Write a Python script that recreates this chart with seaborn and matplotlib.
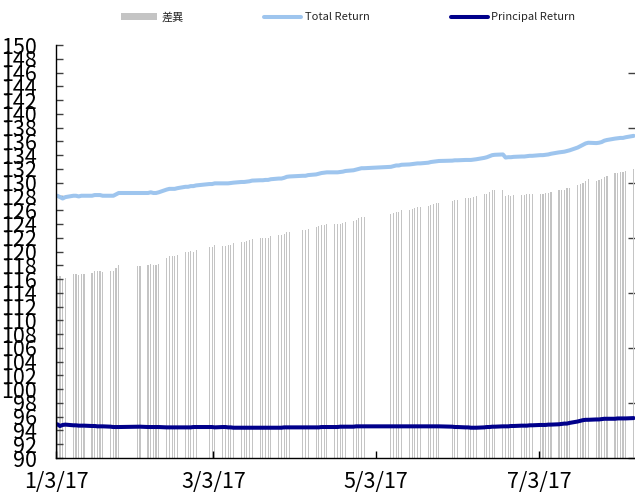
import numpy as np
import pandas as pd
import matplotlib
matplotlib.use("Agg")
import matplotlib.pyplot as plt
import matplotlib.dates as mdates
from matplotlib.patches import Patch
from matplotlib.lines import Line2D
import seaborn as sns

# ---------------- data ----------------
start_date = "2017-01-03"
end_date = "2017-08-07"
holidays = ["2017-01-27", "2017-01-30", "2017-01-31", "2017-02-01",
            "2017-02-27", "2017-02-28", "2017-04-03", "2017-04-04",
            "2017-05-01", "2017-05-02", "2017-05-03", "2017-05-04", "2017-05-05",
            "2017-05-29", "2017-05-30"]

total_return = [
    # Jan
    128.1, 127.9, 127.7, 127.9, 128.1, 128.1, 128.0, 128.1, 128.1, 128.1, 128.2, 128.2, 128.2, 128.1,
    128.1, 128.1, 128.3, 128.5,
    # Feb
    128.5, 128.5, 128.5, 128.6, 128.5, 128.5, 128.6, 129.0, 129.1, 129.1, 129.1, 129.2, 129.4, 129.4,
    129.5, 129.5, 129.6,
    # Mar
    129.8, 129.8, 129.9, 129.9, 129.9, 129.9, 129.95, 130.0, 130.1, 130.1, 130.15, 130.2, 130.3, 130.35,
    130.35, 130.4, 130.4, 130.5, 130.6, 130.6, 130.7, 130.85, 130.9,
    # Apr
    131.0, 131.0, 131.1, 131.2, 131.3, 131.4, 131.45, 131.5, 131.5, 131.5, 131.55, 131.6, 131.7, 131.8,
    131.9, 132.0, 132.1, 132.1,
    # May
    132.3, 132.4, 132.5, 132.5, 132.6, 132.65, 132.7, 132.75, 132.8, 132.8, 132.9, 133.0, 133.05, 133.1,
    133.15, 133.2,
    # Jun
    133.25, 133.25, 133.3, 133.3, 133.3, 133.35, 133.4, 133.6, 133.7, 133.85, 134.0, 134.05, 134.1, 133.65,
    133.7, 133.7, 133.75, 133.8, 133.8, 133.85, 133.9, 133.9,
    # Jul
    134.0, 134.0, 134.05, 134.1, 134.2, 134.4, 134.45, 134.5, 134.6, 134.7, 135.1, 135.3, 135.5, 135.7,
    135.8, 135.75, 135.8, 135.9, 136.1, 136.2, 136.4,
    # Aug
    136.45, 136.5, 136.5, 136.6, 136.8,
]

principal_return = [
    # Jan
    94.9, 94.65, 94.8, 94.85, 94.75, 94.75, 94.7, 94.7, 94.7, 94.65, 94.65, 94.6, 94.6, 94.6,
    94.55, 94.5, 94.5, 94.5,
    # Feb
    94.55, 94.55, 94.5, 94.5, 94.5, 94.5, 94.5, 94.45, 94.45, 94.45, 94.45, 94.45, 94.45, 94.45,
    94.45, 94.5, 94.5,
    # Mar
    94.5, 94.5, 94.45, 94.5, 94.5, 94.45, 94.45, 94.4, 94.4, 94.4, 94.4, 94.4, 94.4, 94.4,
    94.4, 94.4, 94.4, 94.4, 94.4, 94.4, 94.45, 94.45, 94.45,
    # Apr
    94.45, 94.45, 94.45, 94.45, 94.45, 94.5, 94.5, 94.5, 94.5, 94.5, 94.55, 94.55, 94.55, 94.55,
    94.6, 94.6, 94.6, 94.6,
    # May
    94.6, 94.6, 94.6, 94.6, 94.6, 94.6, 94.6, 94.6, 94.6, 94.6, 94.6, 94.6, 94.6, 94.6,
    94.6, 94.55,
    # Jun
    94.5, 94.5, 94.45, 94.45, 94.4, 94.4, 94.4, 94.45, 94.5, 94.5, 94.55, 94.55, 94.6, 94.6,
    94.6, 94.65, 94.65, 94.7, 94.7, 94.7, 94.75, 94.75,
    # Jul
    94.8, 94.8, 94.8, 94.85, 94.85, 94.9, 94.95, 95.0, 95.0, 95.1, 95.3, 95.4, 95.5, 95.55,
    95.55, 95.6, 95.6, 95.65, 95.7, 95.7, 95.7,
    # Aug
    95.75, 95.75, 95.75, 95.75, 95.8,
]

series_labels = ["差異", "Total Return", "Principal Return"]
xtick_dates = ["2017-01-03", "2017-03-03", "2017-05-03", "2017-07-03"]

# ---------------- build frame ----------------
dates = pd.bdate_range(start_date, end_date)
dates = dates[~dates.isin(pd.to_datetime(holidays))]
df = pd.DataFrame({"date": dates,
                   "total": total_return,
                   "principal": principal_return})
df["diff"] = df["total"] - df["principal"]
df["x"] = df["date"] + pd.Timedelta(hours=12)

# ---------------- style ----------------
sns.set_theme(style="white")
plt.rcParams["font.family"] = ["Noto Sans CJK TC", "DejaVu Sans"]

W, H = 635, 494
fig = plt.figure(figsize=(W / 100, H / 100), dpi=100)
left_px, right_px, top_px, bottom_px = 56, 635, 45, 458
ax = fig.add_axes([left_px / W, 1 - bottom_px / H,
                   (right_px - left_px) / W, (bottom_px - top_px) / H])
ax2 = ax.twinx()

c_bar = "#c4c4c4"
c_total = "#9ec5ee"
c_princ = "#00008b"

# bars on secondary axis
ax2.bar(df["x"], df["diff"], width=0.42, color=c_bar, linewidth=0, zorder=1)
ax2.set_ylim(20, 50)
ax2.set_yticks(np.arange(20, 49, 4))
ax2.set_yticklabels([])
ax2.tick_params(axis="y", direction="in", length=5, width=1, color="#404040", right=True)
for s in ax2.spines.values():
    s.set_visible(False)

# lines on primary axis
ax.set_zorder(ax2.get_zorder() + 1)
ax.patch.set_visible(False)
sns.lineplot(x=df["x"], y=df["total"], ax=ax, color=c_total, linewidth=2.9, legend=False)
sns.lineplot(x=df["x"], y=df["principal"], ax=ax, color=c_princ, linewidth=2.9, legend=False)

ax.set_ylim(90, 150)
ax.set_yticks(np.arange(90, 151, 2))
ax.set_xlim(pd.Timestamp("2017-01-03"), pd.Timestamp("2017-08-08"))
ax2.set_xlim(pd.Timestamp("2017-01-03"), pd.Timestamp("2017-08-08"))
ax.set_xticks(pd.to_datetime(xtick_dates))
ax.xaxis.set_major_formatter(plt.FuncFormatter(
    lambda v, p: (lambda d: f"{d.month}/{d.day}/{d.year % 100}")(mdates.num2date(v))))
ax.set_xlabel("")
ax.set_ylabel("")

for side in ["top", "right"]:
    ax.spines[side].set_visible(False)
for side in ["left", "bottom"]:
    ax.spines[side].set_visible(True)
    ax.spines[side].set_color("#000000")
    ax.spines[side].set_linewidth(1.0)

ax.tick_params(axis="y", direction="in", length=5, width=1, color="#404040",
               labelsize=15.5, pad=14, left=True, labelcolor="#000000")
ax.tick_params(axis="x", direction="in", length=5, width=1, color="#000000",
               labelsize=15.5, pad=9, bottom=True, labelcolor="#000000")

handles = [Patch(facecolor=c_bar, edgecolor="none"),
           Line2D([0], [0], color=c_total, linewidth=2.9),
           Line2D([0], [0], color=c_princ, linewidth=2.9)]
fig.legend(handles, series_labels, loc="center", bbox_to_anchor=(348 / W, 1 - 17 / H),
           ncol=3, frameon=False, fontsize=8, handlelength=3.3, handleheight=0.6,
           handletextpad=0.35, columnspacing=7.3)

fig.savefig("out.png", dpi=100)
